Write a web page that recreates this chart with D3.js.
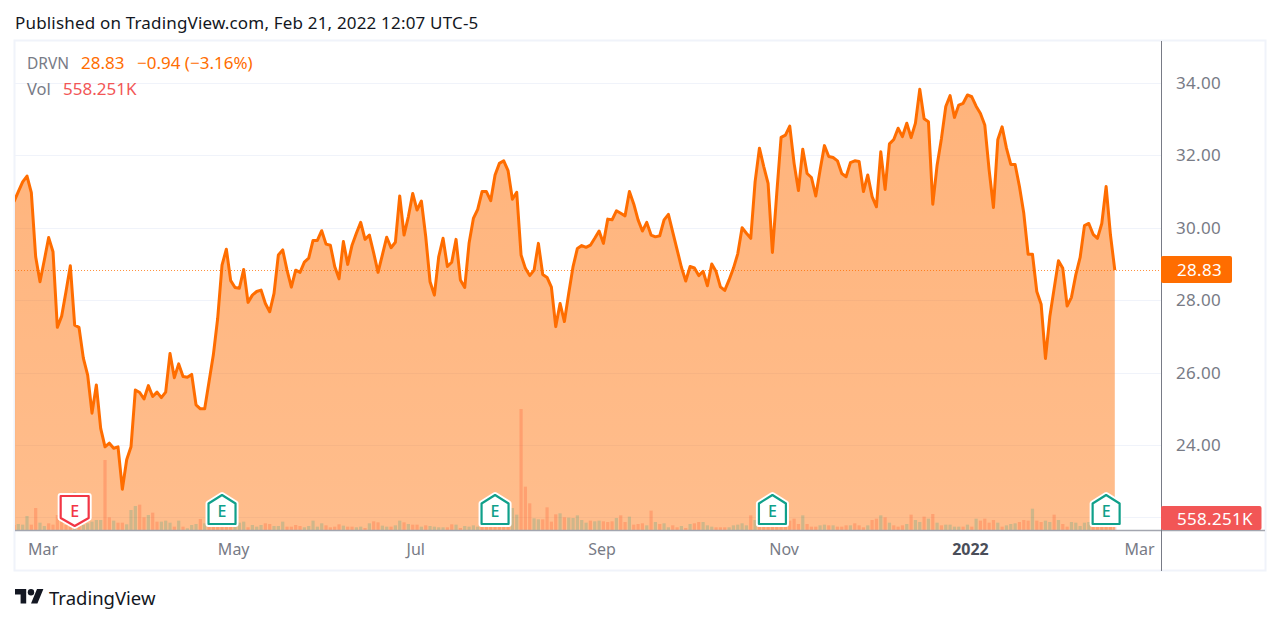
<!DOCTYPE html>
<html>
<head>
<meta charset="utf-8">
<script src="https://cdn.jsdelivr.net/npm/d3@7/dist/d3.min.js"></script>
<style>
  html, body { margin: 0; padding: 0; background: #fff; }
  svg { display: block; }
  text { font-family: "Noto Sans", sans-serif; }
  .num { font-size: 17px; letter-spacing: 0.3px; }
  .legend { font-size: 17px; letter-spacing: 0; }
</style>
</head>
<body>
<svg id="chart" width="1280" height="624"></svg>
<script>
// daily closes
var closes = [
  30.72,31.00,31.27,31.43,30.97,29.20,28.51,29.11,29.73,29.34,
  27.25,27.56,28.24,28.95,27.31,27.25,26.40,25.93,24.88,25.66,
  24.46,23.95,24.05,23.91,23.95,22.78,23.59,23.95,25.52,25.45,
  25.27,25.64,25.34,25.46,25.31,25.46,26.53,25.86,26.24,25.89,
  25.87,25.95,25.11,25.00,25.00,25.75,26.49,27.50,28.97,29.41,
  28.54,28.35,28.33,28.85,27.94,28.14,28.24,28.28,27.91,27.68,
  28.19,29.25,29.39,28.83,28.36,28.83,28.77,29.05,29.16,29.65,
  29.65,29.92,29.55,29.52,28.93,28.59,29.62,28.99,29.52,29.85,
  30.15,29.68,29.80,29.30,28.77,29.25,29.74,29.45,29.60,30.88,
  29.80,30.31,30.95,30.49,30.74,29.76,28.51,28.14,29.20,29.71,
  28.93,29.05,29.68,28.56,28.35,29.57,30.26,30.51,31.00,31.00,
  30.75,31.46,31.78,31.85,31.58,30.79,30.98,29.25,28.88,28.68,
  28.83,29.57,28.71,28.63,28.36,27.27,27.91,27.41,28.19,28.93,
  29.43,29.51,29.46,29.52,29.71,29.91,29.57,30.24,30.22,30.47,
  30.40,30.33,31.00,30.66,30.22,29.91,30.15,29.80,29.75,29.78,
  30.22,30.37,29.88,29.40,28.91,28.53,28.93,28.89,28.68,28.80,
  28.40,29.00,28.79,28.37,28.27,28.56,28.88,29.28,30.00,29.85,
  29.71,31.27,32.20,31.69,31.23,29.32,30.95,32.50,32.56,32.81,
  31.78,31.03,32.17,31.50,31.39,30.88,31.60,32.27,31.97,31.94,
  31.85,31.50,31.41,31.80,31.85,31.83,31.00,31.46,30.86,30.58,
  32.10,31.06,32.32,32.44,32.75,32.52,32.89,32.49,32.89,33.83,
  33.01,32.93,30.65,31.73,32.47,33.35,33.65,33.05,33.39,33.44,
  33.67,33.62,33.36,33.16,32.84,31.60,30.56,32.43,32.79,32.20,
  31.75,31.75,31.14,30.40,29.27,29.27,28.24,27.89,26.39,27.54,
  28.32,29.09,28.88,27.84,28.08,28.70,29.18,30.06,30.12,29.82,
  29.71,30.12,31.14,29.80,28.83
];

// volume in thousands
var volumes = [
  279,335,298,781,298,1228,409,223,372,298,
  837,465,279,186,2102,279,279,372,465,558,
  558,3906,707,521,409,409,316,1116,1339,1414,
  707,837,967,465,465,521,409,186,521,186,
  93,279,335,614,372,186,186,186,186,186,
  223,335,409,465,149,279,186,279,372,335,
  223,223,465,186,186,279,223,149,223,521,
  186,372,260,149,186,316,242,186,186,149,
  186,112,372,484,428,242,186,186,260,521,
  428,335,298,298,186,260,223,186,149,149,
  149,316,298,112,223,186,260,186,186,186,
  186,186,186,186,186,1228,856,6752,2418,1488,
  651,595,595,1265,465,874,930,707,688,670,
  818,558,409,521,484,521,484,446,484,670,
  818,446,744,298,335,372,260,1079,446,335,
  372,149,260,149,223,112,335,372,446,446,
  260,186,149,149,149,149,260,298,372,260,
  818,558,186,186,186,186,186,186,186,521,
  632,335,818,335,186,186,260,298,260,260,
  186,186,260,260,372,260,149,260,558,632,
  818,707,409,260,186,260,335,856,558,446,
  744,632,893,409,260,298,298,186,186,186,
  298,186,632,521,632,409,558,409,186,260,
  335,372,446,558,521,1190,521,446,521,446,
  856,558,335,186,446,409,223,409,446,186,
  186,186,186,186,558
];

// sessions whose volume bar is drawn in the "up" colour
var upSessions = [
  1,2,3,6,7,14,16,17,18,19,20,23,26,27,28,31,34,35,36,38,40,41,42,44,
  51,52,53,55,56,57,60,61,62,67,68,69,70,71,76,79,80,82,85,86,88,89,91,94,
  96,97,98,99,102,104,105,106,107,115,116,120,121,126,128,129,130,131,132,
  134,135,139,142,146,148,150,151,154,156,159,160,161,165,166,167,168,169,
  171,182,186,187,189,193,197,200,202,206,208,209,211,213,215,216,217,218,
  220,222,227,229,230,231,235,238,239,241,244,245,246,247,248
];

var priceTicks = [24, 26, 28, 30, 32, 34];
var gridPrices = [22, 24, 26, 28, 30, 32, 34];

var monthTicks = [6, 50, 92, 135, 177, 220, 259];
var monthLabels = ["Mar", "May", "Jul", "Sep", "Nov", "2022", "Mar"];

var earnings = [14, 48, 111, 175, 252];
var earningsBeat = [false, true, true, true, true];

var lastPrice = 28.83;
var lastVolume = 558.251;
var symbol = "DRVN";
var changeText = "\u22120.94 (\u22123.16%)";

var orange = "#ff6d00", red = "#f25656", teal = "#10a08a", grey = "#787b86";

var svg = d3.select("#chart");
var paneLeft = 15, paneRight = 1265, axisX = 1161, paneTop = 41, paneBottom = 571, baseY = 530;

var x = d3.scaleLinear().domain([0, 254]).range([14, 1114.8]);
var y = d3.scaleLinear().domain([22, 34]).range([517.4, 83]);
var yVol = d3.scaleLinear().domain([0, d3.max(volumes)]).range([baseY, 409]);

var defs = svg.append("defs");
var grad = defs.append("linearGradient").attr("id", "areaFill")
  .attr("x1", 0).attr("x2", 0).attr("y1", 0).attr("y2", 1);
grad.append("stop").attr("offset", "0%").attr("stop-color", orange).attr("stop-opacity", 0.52);
grad.append("stop").attr("offset", "100%").attr("stop-color", orange).attr("stop-opacity", 0.45);
defs.append("clipPath").attr("id", "pane").append("rect")
  .attr("x", paneLeft).attr("y", paneTop).attr("width", axisX - paneLeft).attr("height", baseY - paneTop);

svg.append("text").attr("x", 15).attr("y", 29)
  .attr("font-size", 17).attr("letter-spacing", 0.18).attr("fill", "#131722")
  .text("Published on TradingView.com, Feb 21, 2022 12:07 UTC-5");

// frame
svg.append("rect").attr("x", paneLeft - 0.5).attr("y", paneTop - 0.5)
  .attr("width", paneRight - paneLeft + 1).attr("height", paneBottom - paneTop)
  .attr("fill", "none").attr("stroke", "#f0f3fa").attr("stroke-width", 2);

// grid
svg.append("g").selectAll("line").data(gridPrices).enter().append("line")
  .attr("x1", paneLeft).attr("x2", axisX)
  .attr("y1", function(d) { return Math.round(y(d)) + 0.5; })
  .attr("y2", function(d) { return Math.round(y(d)) + 0.5; })
  .attr("stroke", "#f0f3fa").attr("stroke-width", 1);

var plot = svg.append("g").attr("clip-path", "url(#pane)");

var idx = d3.range(closes.length);

var area = d3.area()
  .x(function(i) { return x(i); })
  .y0(baseY)
  .y1(function(i) { return y(closes[i]); });

var line = d3.line()
  .x(function(i) { return x(i); })
  .y(function(i) { return y(closes[i]); });

plot.append("path").datum(idx)
  .attr("d", area)
  .attr("fill", "url(#areaFill)");

plot.append("g").selectAll("rect").data(idx).enter().append("rect")
  .attr("x", function(i) { return x(i) - 1.6; })
  .attr("width", 3.2)
  .attr("y", function(i) { return yVol(volumes[i]); })
  .attr("height", function(i) { return baseY - yVol(volumes[i]); })
  .attr("fill", function(i) {
    return upSessions.indexOf(i) >= 0 ? "rgba(8,153,129,0.2)" : "rgba(255,82,40,0.26)";
  });

// last price line
svg.append("line")
  .attr("x1", paneLeft).attr("x2", axisX)
  .attr("y1", Math.round(y(lastPrice)) + 0.5).attr("y2", Math.round(y(lastPrice)) + 0.5)
  .attr("stroke", orange).attr("stroke-width", 1).attr("stroke-opacity", 0.75)
  .attr("stroke-dasharray", "1 2");

plot.append("path").datum(idx)
  .attr("d", line)
  .attr("fill", "none")
  .attr("stroke", orange)
  .attr("stroke-width", 3)
  .attr("stroke-linejoin", "round");

// axis lines
svg.append("line").attr("x1", paneLeft).attr("x2", paneRight).attr("y1", baseY + 0.5).attr("y2", baseY + 0.5)
  .attr("stroke", "#a3a6af").attr("stroke-width", 1.5);
svg.append("line").attr("x1", axisX + 0.5).attr("x2", axisX + 0.5).attr("y1", paneTop).attr("y2", paneBottom)
  .attr("stroke", grey).attr("stroke-width", 1);

// price axis
var yAxis = d3.axisRight(y).tickValues(priceTicks).tickSize(0).tickPadding(0)
  .tickFormat(d3.format(".2f"));
var gy = svg.append("g").attr("transform", "translate(1176,0)").call(yAxis);
gy.select(".domain").remove();
gy.attr("font-family", null);
gy.selectAll("text").attr("class", "num").attr("fill", grey);

// time axis
var xAxis = d3.axisBottom(x).tickValues(monthTicks).tickSize(0).tickPadding(0)
  .tickFormat(function(d, i) { return monthLabels[i]; });
var gx = svg.append("g").attr("transform", "translate(2.5,544)").call(xAxis);
gx.select(".domain").remove();
gx.attr("font-family", null);
gx.selectAll("text")
  .attr("font-size", 16)
  .attr("fill", function(d, i) { return monthLabels[i] === "2022" ? "#4a4e59" : grey; })
  .attr("font-weight", function(d, i) { return monthLabels[i] === "2022" ? 700 : 400; });

// last value tags
svg.append("rect").attr("x", axisX).attr("y", 256).attr("width", 71).attr("height", 27)
  .attr("rx", 2).attr("fill", orange);
svg.append("text").attr("class", "num").attr("x", 1177).attr("y", y(lastPrice) + 6)
  .attr("fill", "#fff").text(d3.format(".2f")(lastPrice));
svg.append("rect").attr("x", axisX).attr("y", 506).attr("width", 100.5).attr("height", 24)
  .attr("rx", 2).attr("fill", red);
svg.append("text").attr("class", "num").attr("x", 1177).attr("y", 525)
  .attr("fill", "#fff").text(d3.format(".3f")(lastVolume) + "K");

// legend
svg.append("text").attr("x", 27).attr("y", 69).attr("font-size", 15.5).attr("fill", grey).text(symbol);
svg.append("text").attr("class", "legend").attr("x", 81).attr("y", 69).attr("fill", orange).text(d3.format(".2f")(lastPrice));
svg.append("text").attr("class", "legend").attr("x", 137).attr("y", 69).attr("fill", orange).text(changeText);
svg.append("text").attr("x", 27).attr("y", 95).attr("font-size", 16.5).attr("fill", grey).text("Vol");
svg.append("text").attr("class", "legend").attr("x", 63).attr("y", 95).attr("fill", red).text(d3.format(".3f")(lastVolume) + "K");

// earnings markers
var beatShape = "M0,-16 L13.5,-7.5 L13.5,13 L-13.5,13 L-13.5,-7.5 Z";
var missShape = "M-14,-15 L14,-15 L14,7 L0,15 L-14,7 Z";
var flags = svg.append("g").selectAll("g").data(earnings).enter().append("g")
  .attr("transform", function(d) { return "translate(" + x(d) + ",511)"; });
flags.append("path")
  .attr("d", function(d, i) { return earningsBeat[i] ? beatShape : missShape; })
  .attr("fill", "#fff")
  .attr("stroke", "#fff")
  .attr("stroke-width", 6)
  .attr("stroke-linejoin", "round");
flags.append("path")
  .attr("d", function(d, i) { return earningsBeat[i] ? beatShape : missShape; })
  .attr("fill", "#fff")
  .attr("stroke", function(d, i) { return earningsBeat[i] ? teal : "#f23645"; })
  .attr("stroke-width", 2.2)
  .attr("stroke-linejoin", "round");
flags.append("text")
  .attr("text-anchor", "middle")
  .attr("y", 6)
  .attr("font-size", 16)
  .attr("font-weight", 500)
  .attr("fill", function(d, i) { return earningsBeat[i] ? teal : "#f23645"; })
  .text("E");

// logo
var logo = svg.append("g").attr("transform", "translate(15,585.8) scale(0.8)").attr("fill", "#131722");
logo.append("path").attr("d", "M14 22H7V11H0V4h14v18zM28 22h-8l7.5-18h8L28 22z");
logo.append("circle").attr("cx", 20).attr("cy", 8).attr("r", 4);
svg.append("text").attr("x", 49).attr("y", 605).attr("font-size", 18.5).attr("fill", "#131722").text("TradingView");
</script>
</body>
</html>
